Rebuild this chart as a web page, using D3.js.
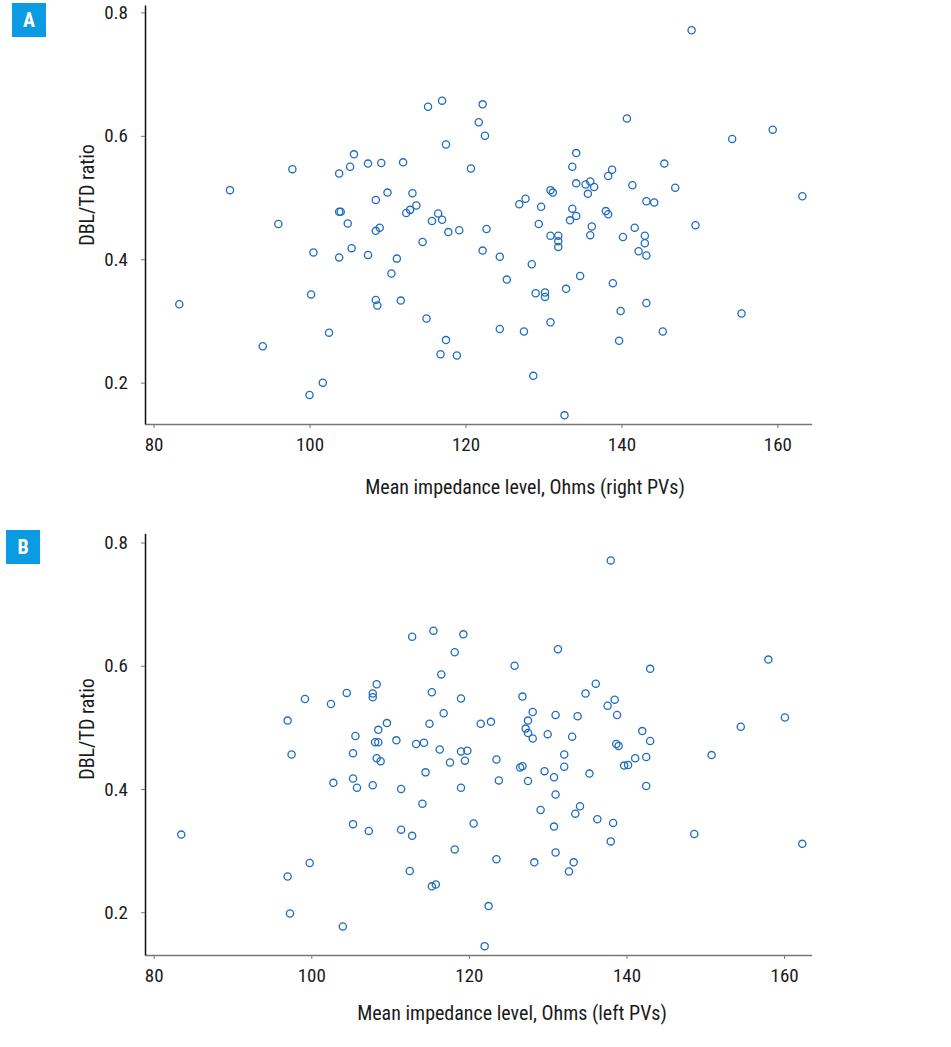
<!DOCTYPE html>
<html>
<head>
<meta charset="utf-8">
<script src="https://cdn.jsdelivr.net/npm/d3@7"></script>
<style>
  body { margin: 0; background: #fff; }
  svg text { font-family: "Liberation Sans Narrow", "Roboto Condensed", Roboto, sans-serif; fill: #1a1a1a; }
  .dot { fill: none; stroke: #1f6cc0; stroke-width: 1.3; }
  .tick line { stroke: #777; }
</style>
</head>
<body>
<div id="chart"></div>
<script>
// panel A: right PVs
const rightImpedance = [
  115.2, 117.0, 117.5, 97.8, 103.8, 105.7, 105.2, 107.5, 109.2, 112.0, 120.7, 89.8,
  108.5, 110.0, 113.2, 113.7, 112.4, 112.9, 103.8, 104.0, 104.9, 116.5, 115.7, 117.0,
  117.8, 119.2, 108.5, 109.0, 96.0, 114.5, 100.5, 103.8, 105.4, 107.5, 111.2, 110.5,
  100.2, 108.5, 108.7, 111.7, 83.3, 115.0, 102.5, 117.5, 94.0, 116.8, 118.9, 101.7, 100.0,
  149.0, 122.2, 121.7, 122.5, 140.7, 154.2, 159.4, 134.2, 133.7, 138.8, 138.3, 145.5,
  134.2, 135.4, 136.0, 136.5, 135.7, 141.4, 146.9, 130.9, 131.2, 126.9, 127.7, 129.7,
  129.4, 133.7, 134.2, 133.4, 138.0, 138.3, 143.2, 144.2, 163.2, 122.7, 149.5, 130.9,
  131.9, 131.9, 131.9, 136.2, 136.0, 141.7, 140.2, 143.0, 143.0, 142.2, 143.2, 122.2,
  124.4, 128.5, 125.3, 134.7, 138.9, 129.0, 130.2, 130.2, 132.9, 143.2, 139.9, 155.4,
  130.9, 124.4, 127.5, 145.3, 139.7, 128.7, 132.7
]
const rightRatio = [
  0.647, 0.657, 0.586, 0.546, 0.539, 0.570, 0.550, 0.555, 0.556, 0.557, 0.547, 0.512,
  0.496, 0.508, 0.507, 0.487, 0.475, 0.480, 0.477, 0.477, 0.458, 0.474, 0.462, 0.464,
  0.444, 0.447, 0.446, 0.451, 0.457, 0.428, 0.411, 0.403, 0.418, 0.407, 0.401, 0.377,
  0.343, 0.334, 0.325, 0.333, 0.327, 0.304, 0.281, 0.269, 0.259, 0.246, 0.244, 0.200, 0.180,
  0.771, 0.651, 0.622, 0.600, 0.628, 0.595, 0.610, 0.572, 0.550, 0.545, 0.535, 0.555,
  0.523, 0.521, 0.526, 0.517, 0.506, 0.520, 0.516, 0.512, 0.508, 0.489, 0.498, 0.485,
  0.457, 0.482, 0.470, 0.463, 0.478, 0.473, 0.494, 0.492, 0.502, 0.449, 0.455, 0.438,
  0.438, 0.429, 0.420, 0.453, 0.439, 0.451, 0.436, 0.438, 0.426, 0.413, 0.406, 0.414,
  0.404, 0.392, 0.367, 0.373, 0.361, 0.345, 0.346, 0.339, 0.352, 0.329, 0.316, 0.312,
  0.298, 0.287, 0.283, 0.283, 0.268, 0.211, 0.147
]

// panel B: left PVs
const leftImpedance = [
  112.8, 115.5, 119.3, 118.2, 116.5, 99.2, 102.5, 104.5, 107.8, 107.8, 108.3, 115.3,
  119.0, 97.0, 109.6, 108.5, 105.6, 115.0, 116.8, 108.1, 108.5, 110.8, 113.3, 114.3,
  116.3, 119.0, 119.8, 119.5, 117.6, 97.5, 105.3, 108.3, 108.8, 114.5, 105.3, 105.8,
  102.8, 107.8, 111.4, 119.0, 114.1, 120.6, 105.3, 107.3, 111.4, 112.8, 83.5, 118.2,
  99.8, 97.0, 112.5, 115.3, 115.8, 97.3, 104.0,
  138.0, 131.3, 125.8, 143.0, 158.0, 136.1, 134.8, 126.8, 138.5, 137.6, 138.8, 128.1,
  131.0, 133.8, 121.5, 122.8, 127.5, 127.2, 127.5, 128.1, 130.0, 133.1, 142.0, 143.0,
  160.1, 154.5, 138.7, 139.0, 123.5, 132.1, 132.1, 126.5, 126.8, 129.6, 130.8, 135.3,
  139.7, 140.2, 141.1, 142.5, 142.5, 150.8, 123.8, 127.5, 131.0, 129.1, 134.1, 133.5,
  136.3, 138.3, 130.8, 138.0, 148.6, 162.3, 123.5, 128.3, 131.0, 133.3, 132.7, 122.5, 122.0
]
const leftRatio = [
  0.647, 0.657, 0.651, 0.622, 0.586, 0.546, 0.538, 0.556, 0.555, 0.549, 0.570, 0.557,
  0.547, 0.511, 0.507, 0.496, 0.486, 0.506, 0.523, 0.476, 0.476, 0.479, 0.473, 0.475,
  0.464, 0.461, 0.462, 0.446, 0.443, 0.456, 0.458, 0.450, 0.445, 0.427, 0.417, 0.402,
  0.410, 0.406, 0.400, 0.402, 0.376, 0.344, 0.343, 0.332, 0.334, 0.324, 0.326, 0.302,
  0.280, 0.258, 0.267, 0.242, 0.245, 0.198, 0.177,
  0.771, 0.627, 0.600, 0.595, 0.610, 0.571, 0.555, 0.550, 0.545, 0.535, 0.520, 0.525,
  0.520, 0.518, 0.506, 0.509, 0.511, 0.498, 0.491, 0.482, 0.489, 0.485, 0.494, 0.478,
  0.516, 0.501, 0.473, 0.470, 0.448, 0.456, 0.436, 0.435, 0.437, 0.429, 0.419, 0.425,
  0.438, 0.439, 0.450, 0.452, 0.405, 0.455, 0.414, 0.413, 0.391, 0.366, 0.372, 0.360,
  0.351, 0.345, 0.339, 0.315, 0.327, 0.311, 0.286, 0.281, 0.297, 0.281, 0.266, 0.210, 0.145
]

const xTicks = [80, 100, 120, 140, 160]
const yTicks = [0.2, 0.4, 0.6, 0.8]

const width = 951
const height = 1047

const svg = d3.create("svg")
    .attr("width", width)
    .attr("height", height)
    .attr("viewBox", [0, 0, width, height])

const panels = [
  { letter: 'A', xs: rightImpedance, ys: rightRatio,
    xLabel: 'Mean impedance level, Ohms (right PVs)',
    xDomain: [78.9, 164.4], yDomain: [0.133, 0.812],
    left: 145, right: 811.7, top: 5, bottom: 424,
    box: [12, 3], yLabelY: 195, xLabelY: 494, xLabelX: 525 },
  { letter: 'B', xs: leftImpedance, ys: leftRatio,
    xLabel: 'Mean impedance level, Ohms (left PVs)',
    xDomain: [78.9, 163.5], yDomain: [0.1306, 0.815],
    left: 145, right: 811.7, top: 533.3, bottom: 955,
    box: [6, 530], yLabelY: 729, xLabelY: 1020, xLabelX: 512 }
]

panels.forEach(p => {
  const x = d3.scaleLinear().domain(p.xDomain).range([p.left, p.right])
  const y = d3.scaleLinear().domain(p.yDomain).range([p.bottom, p.top])
  const g = svg.append('g')

  /* axes */
  const xAxis = g.append('g')
      .attr('transform', `translate(0,${p.bottom})`)
      .call(d3.axisBottom(x).tickValues(xTicks).tickSize(4).tickSizeOuter(0).tickPadding(10))
  xAxis.select('.domain').attr('stroke', '#777').attr('stroke-width', 1.5)
  xAxis.selectAll('text').attr('font-size', 19).attr('fill', '#1a1a1a')

  const yAxis = g.append('g')
      .attr('transform', `translate(${p.left},0)`)
      .call(d3.axisLeft(y).tickValues(yTicks).tickFormat(d3.format('.1f')).tickSize(4).tickSizeOuter(0).tickPadding(13))
  yAxis.select('.domain').attr('stroke', '#111').attr('stroke-width', 1.5)
  yAxis.selectAll('text').attr('font-size', 19).attr('fill', '#1a1a1a')

  /* points */
  g.append('g').selectAll('circle')
      .data(d3.range(p.xs.length))
      .enter()
      .append('circle')
      .attr('class', 'dot')
      .attr('cx', i => x(p.xs[i]))
      .attr('cy', i => y(p.ys[i]))
      .attr('r', 3.6)

  /* labels */
  g.append('text')
      .attr('x', p.xLabelX)
      .attr('y', p.xLabelY)
      .attr('text-anchor', 'middle')
      .attr('font-size', 20)
      .text(p.xLabel)

  g.append('text')
      .attr('transform', `translate(94,${p.yLabelY}) rotate(-90)`)
      .attr('text-anchor', 'middle')
      .attr('font-size', 20)
      .text('DBL/TD ratio')

  g.append('rect')
      .attr('x', p.box[0]).attr('y', p.box[1])
      .attr('width', 34).attr('height', 34)
      .attr('fill', '#0a9be2')
  g.append('text')
      .attr('x', p.box[0] + 17).attr('y', p.box[1] + 24)
      .attr('text-anchor', 'middle')
      .attr('font-size', 20)
      .attr('font-weight', 'bold')
      .style('fill', '#fff')
      .text(p.letter)
})

document.getElementById('chart').appendChild(svg.node())
</script>
</body>
</html>
